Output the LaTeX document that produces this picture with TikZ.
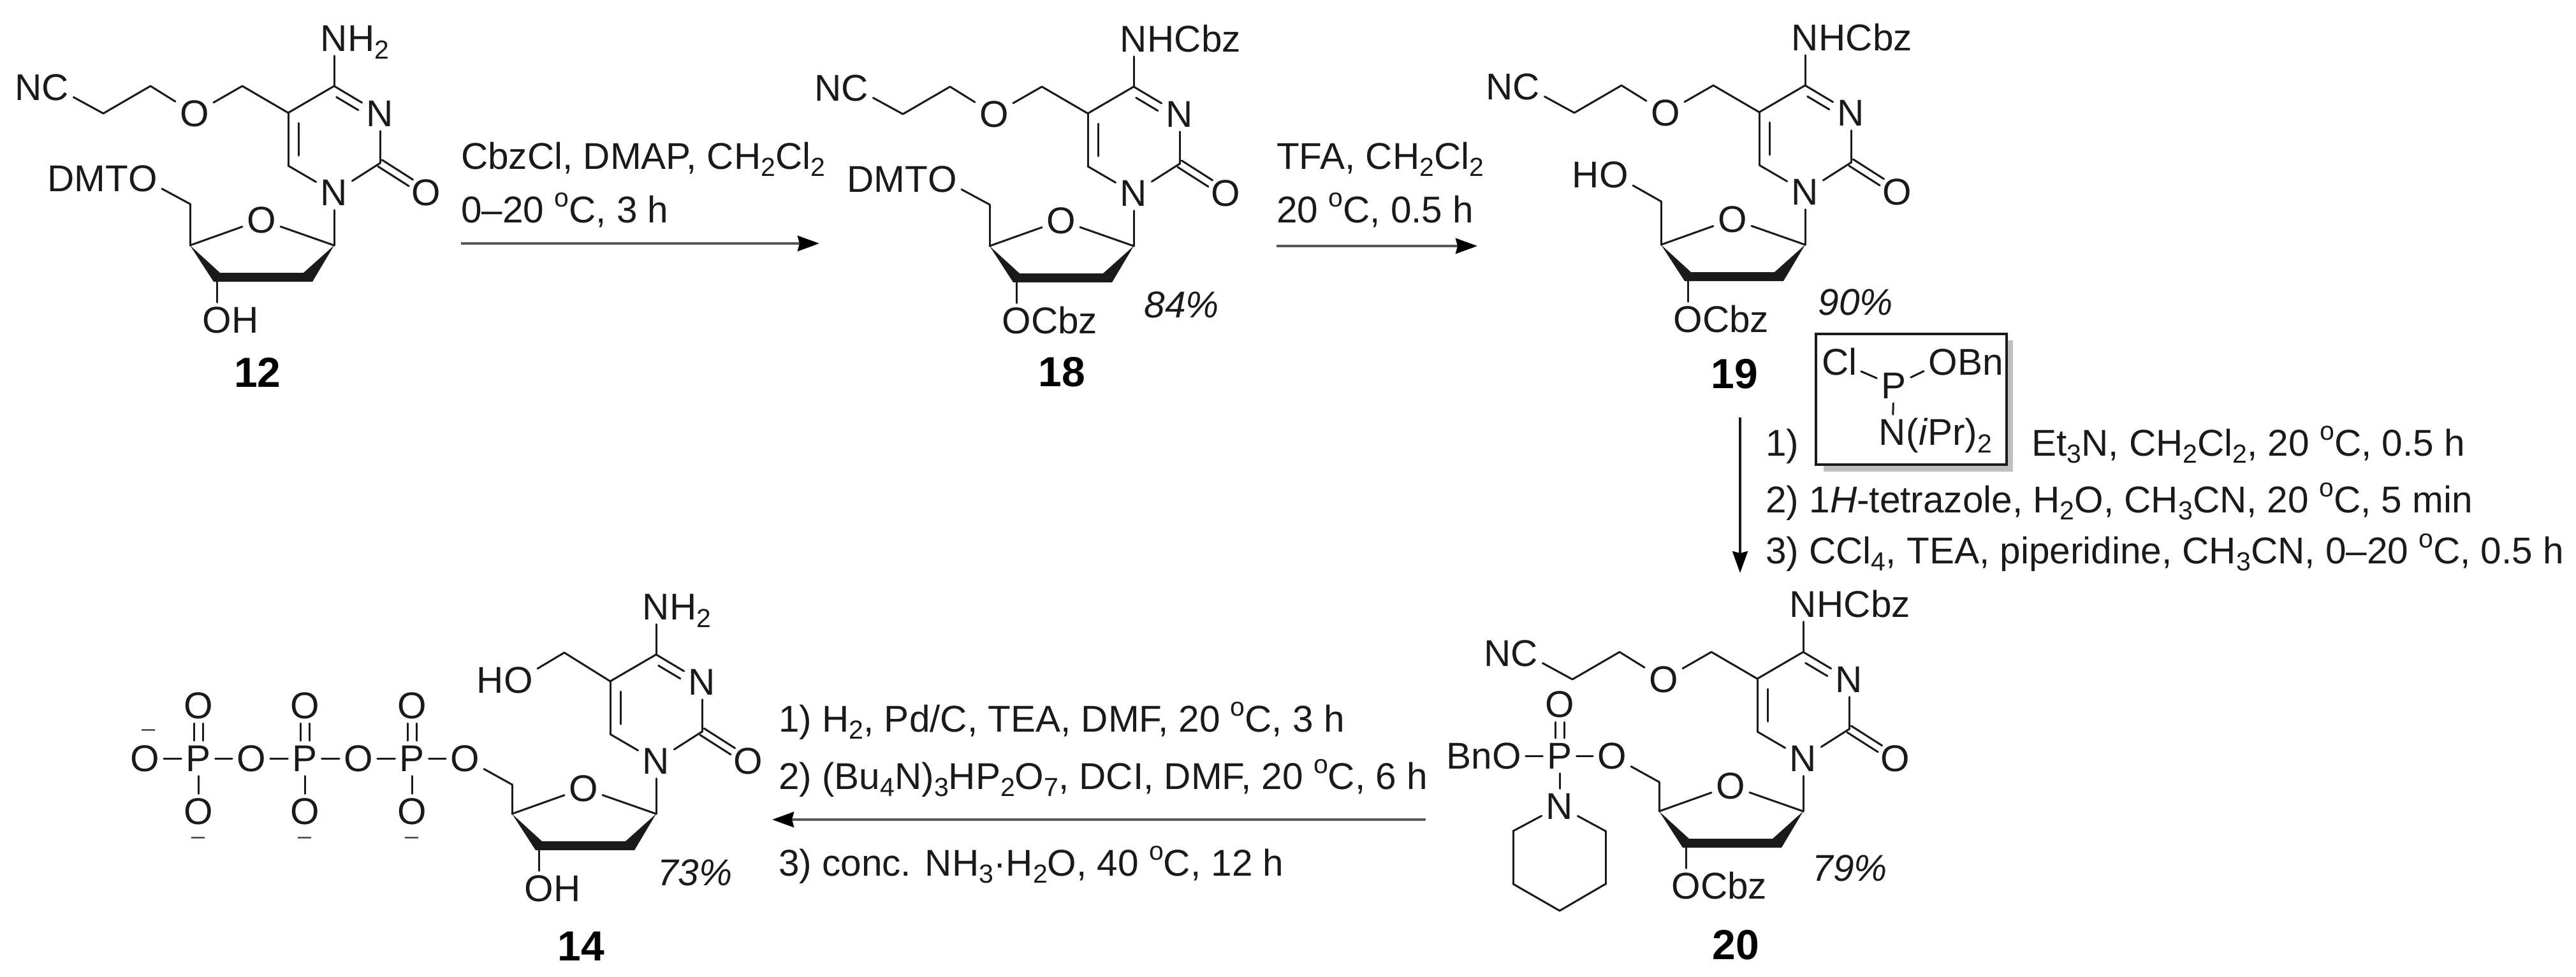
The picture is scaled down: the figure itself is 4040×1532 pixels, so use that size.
\documentclass[tikz,border=0pt]{standalone}
\usepackage{fontspec}
\setmainfont{Liberation Sans}
\usetikzlibrary{calc,arrows.meta}
\definecolor{ink}{HTML}{1A1A1A}
\newcommand\sbs[1]{\raisebox{-.2em}{\fontsize{41}{41}\selectfont #1}}
\newcommand\degO{\raisebox{.42em}{\fontsize{41}{41}\selectfont o}}
\tikzset{
  atom/.style={inner sep=7pt,text height=41pt,text depth=0pt,text=ink},
  rest/.style={anchor=base west,inner sep=0pt,text height=41pt,text depth=0pt,text=ink,xshift=-7pt},
  restl/.style={anchor=base east,inner sep=0pt,text height=41pt,text depth=0pt,text=ink,xshift=7pt},
  rxn/.style={anchor=base west,inner sep=0pt,text=ink},
  yield/.style={inner sep=0pt,text=ink,font=\fontsize{58.5}{62}\selectfont\itshape},
  cmpd/.style={inner sep=0pt,text=black,font=\fontsize{66}{70}\selectfont\bfseries},
  charge/.style={inner sep=0pt,text=ink!80,font=\fontsize{38}{40}\selectfont},
  bond/.style={draw=ink,line width=3pt,line cap=round},
  rxnarrow/.style={draw=black!65,line width=4.5pt,-{Stealth[length=34pt,width=24pt,inset=3pt,color=black]}},
}
% offset parallel line: a, b, offset, angle, shorten at a, shorten at b
\newcommand\dbl[6]{\draw[bond,shorten <=#5,shorten >=#6] ($(#1)!#3!#4:(#2)$) -- ($(#2)!#3!-#4:(#1)$);}
% pyrimidine + sugar core; #1 = y of C5' relative to N1
\newcommand\core[1]{%
  \node[atom] (N1) at (0,0) {N};
  \node[atom] (N3) at (72,-124) {N};
  \node[atom] (O2) at (144,0) {O};
  \node[atom] (O4p) at (-114,43) {O};
  \coordinate (C2) at (72,-46);
  \coordinate (C4) at (0,-167);
  \coordinate (C5) at (-72,-125);
  \coordinate (C6) at (-72,-42);
  \coordinate (C1p) at (0,83);
  \coordinate (C2p) at (-41,133);
  \coordinate (C3p) at (-184,133);
  \coordinate (C4p) at (-226,83);
  \coordinate (C5p) at (-226,#1);
  \draw[bond] (N1) -- (C6);
  \draw[bond] (C6) -- (C5);
  \draw[bond] (C5) -- (C4);
  \draw[bond] (C4) -- (N3);
  \draw[bond] (N3) -- (C2);
  \draw[bond] (C2) -- (N1);
  \dbl{C5}{C6}{16pt}{90}{16pt}{16pt}
  \dbl{C4}{N3}{13pt}{-90}{12pt}{32pt}
  \dbl{C2}{O2}{6pt}{90}{0pt}{28pt}
  \dbl{C2}{O2}{6pt}{-90}{0pt}{28pt}
  \draw[bond] (N1) -- (C1p);
  \draw[bond] (C1p) -- (O4p);
  \draw[bond] (O4p) -- (C4p);
  \draw[bond] (C4p) -- (C5p);
  \fill[ink] (C4p) -- ([shift={(-5,7)}]C3p) -- ([shift={(7,7)}]C2p) -- (C1p)
     -- ([shift={(-7,-7)}]C2p) -- ([shift={(5,-7)}]C3p) -- cycle;
}
% cyanoethoxymethyl chain
\newcommand\chain{%
  \coordinate (Ca) at (-144,-167);
  \node[atom] (Oe) at (-219,-124) {O};
  \coordinate (Cb) at (-288,-167);
  \coordinate (Cc) at (-362,-124);
  \node[atom] (CN) at (-437,-165) {C};
  \node[restl] (NN) at (CN.base west) {N};
  \draw[bond] (C5) -- (Ca);
  \draw[bond] (Ca) -- (Oe);
  \draw[bond] (Oe) -- (Cb);
  \draw[bond] (Cb) -- (Cc);
  \draw[bond] (Cc) -- (CN);
}
% substituent on C4 and on C3'
\newcommand\topN[1]{%
  \node[atom] (Nt) at (0,-242) {N};
  \node[rest] (NtR) at (Nt.base east) {#1};
  \draw[bond] (C4) -- (Nt);
}
\newcommand\botO[1]{%
  \node[atom] (Ob) at (-184,200) {O};
  \node[rest] (ObR) at (Ob.base east) {#1};
  \draw[bond] (C3p) -- (Ob);
}
\begin{document}
\begin{tikzpicture}[x=1pt,y=-1pt,font=\fontsize{58.5}{62}\selectfont]
\useasboundingbox (0,0) rectangle (4040,1532);
\fill[white] (0,0) rectangle (4040,1532);

% ---------- 12
\begin{scope}[shift={(524,302)},name prefix=m12-]
  \core{18}\chain
  \topN{H\sbs{2}}
  \botO{H}
  \node[atom] (O5) at (-300,-22) {O};
  \node[restl] (O5L) at (O5.base west) {DMT};
  \draw[bond] (C5p) -- (O5);
\end{scope}
\node[cmpd] (n12) at (404,584) {12};

% ---------- 18
\begin{scope}[shift={(1778,303)},name prefix=m18-]
  \core{18}\chain
  \topN{HCbz}
  \botO{Cbz}
  \node[atom] (O5) at (-300,-22) {O};
  \node[restl] (O5L) at (O5.base west) {DMT};
  \draw[bond] (C5p) -- (O5);
\end{scope}
\node[cmpd] (n18) at (1665,584) {18};
\node[yield] (y18) at (1853,478) {84\%};

% ---------- 19
\begin{scope}[shift={(2831,301)},name prefix=m19-]
  \core{15}\chain
  \topN{HCbz}
  \botO{Cbz}
  \node[atom] (O5) at (-300,-27) {O};
  \node[restl] (O5L) at (O5.base west) {H};
  \draw[bond] (C5p) -- (O5);
\end{scope}
\node[cmpd] (n19) at (2720,587) {19};
\node[yield] (y19) at (2910,474) {90\%};

% ---------- 20
\begin{scope}[shift={(2828,1190)},name prefix=m20-]
  \core{37}\chain
  \topN{HCbz}
  \botO{Cbz}
  \node[atom] (O5) at (-300,-4) {O};
  \node[atom] (P) at (-382,-4) {P};
  \node[atom] (Ol) at (-465,-4) {O};
  \node[restl] (OlL) at (Ol.base west) {Bn};
  \node[atom] (Ou) at (-382,-85) {O};
  \node[atom] (Np) at (-382,75) {N};
  \coordinate (p1) at (-455,114);
  \coordinate (p2) at (-455,197);
  \coordinate (p3) at (-382,239);
  \coordinate (p4) at (-310,197);
  \coordinate (p5) at (-310,114);
  \draw[bond] (C5p) -- (O5);
  \draw[bond] (O5) -- (P);
  \draw[bond] (P) -- (Ol);
  \draw[bond] (P) -- (Np);
  \dbl{P}{Ou}{7pt}{90}{28pt}{28pt}
  \dbl{P}{Ou}{7pt}{-90}{28pt}{28pt}
  \draw[bond] (Np) -- (p1);
  \draw[bond] (p1) -- (p2);
  \draw[bond] (p2) -- (p3);
  \draw[bond] (p3) -- (p4);
  \draw[bond] (p4) -- (p5);
  \draw[bond] (p5) -- (Np);
\end{scope}
\node[cmpd] (n20) at (2722,1483) {20};
\node[yield] (y20) at (2901,1362) {79\%};

% ---------- 14
\begin{scope}[shift={(1029,1194)},name prefix=m14-]
  \core{37}
  \topN{H\sbs{2}}
  \botO{H}
  \coordinate (Ca) at (-144,-170);
  \node[atom] (Oh) at (-216,-127) {O};
  \node[restl] (OhL) at (Oh.base west) {H};
  \draw[bond] (C5) -- (Ca);
  \draw[bond] (Ca) -- (Oh);
  \node[atom] (O5) at (-300,-4) {O};
  \node[atom] (P3) at (-383,-4) {P};
  \node[atom] (Ob2) at (-467,-4) {O};
  \node[atom] (P2) at (-551,-4) {P};
  \node[atom] (Ob1) at (-635,-4) {O};
  \node[atom] (P1) at (-718,-4) {P};
  \node[atom] (Om) at (-802,-4) {O};
  \draw[bond] (C5p) -- (O5);
  \draw[bond] (O5) -- (P3);
  \draw[bond] (P3) -- (Ob2);
  \draw[bond] (Ob2) -- (P2);
  \draw[bond] (P2) -- (Ob1);
  \draw[bond] (Ob1) -- (P1);
  \draw[bond] (P1) -- (Om);
  \foreach \p/\x in {P1/-718,P2/-551,P3/-383}{
    \node[atom] (U\p) at (\x,-87) {O};
    \node[atom] (D\p) at (\x,79) {O};
    \node[charge] (M\p) at (\x,125) {–};
    \draw[bond] (\p) -- (D\p);
    \dbl{\p}{U\p}{7pt}{90}{28pt}{28pt}
    \dbl{\p}{U\p}{7pt}{-90}{28pt}{28pt}
  }
  \node[charge] (Mm) at (-796,-44) {–};
\end{scope}
\node[cmpd] (n14) at (911,1485) {14};
\node[yield] (y14) at (1090,1369) {73\%};

% ---------- arrows
\coordinate (a1s) at (723,382);
\coordinate (a1e) at (1285,382);
\coordinate (a2s) at (2002,386);
\coordinate (a2e) at (2317,386);
\coordinate (a3s) at (2729,655);
\coordinate (a3e) at (2729,899);
\coordinate (a4s) at (2236,1286);
\coordinate (a4e) at (1211,1286);
\draw[rxnarrow] (a1s) -- (a1e);
\draw[rxnarrow] (a2s) -- (a2e);
\draw[rxnarrow,draw=ink,line width=3.5pt] (a3s) -- (a3e);
\draw[rxnarrow] (a4s) -- (a4e);

% ---------- conditions
\node[rxn] (t1a) at (723,265) {CbzCl, DMAP, CH\sbs{2}Cl\sbs{2}};
\node[rxn] (t1b) at (723,349) {0–20 \degO C, 3 h};
\node[rxn] (t2a) at (2002,265) {TFA, CH\sbs{2}Cl\sbs{2}};
\node[rxn] (t2b) at (2002,349) {20 \degO C, 0.5 h};
\node[rxn] (t3a) at (2769,715) {1)};
\node[rxn] (t3b) at (3186,715) {Et\sbs{3}N, CH\sbs{2}Cl\sbs{2}, 20 \degO C, 0.5 h};
\node[rxn] (t3c) at (2769,804) {2) 1\textit{H}-tetrazole, H\sbs{2}O, CH\sbs{3}CN, 20 \degO C, 5 min};
\node[rxn] (t3d) at (2769,884) {3) CCl\sbs{4}, TEA, piperidine, CH\sbs{3}CN, 0–20 \degO C, 0.5 h};
\node[rxn] (t4a) at (1221,1148) {1) H\sbs{2}, Pd/C, TEA, DMF, 20 \degO C, 3 h};
\node[rxn] (t4b) at (1221,1238) {2) (Bu\sbs{4}N)\sbs{3}HP\sbs{2}O\sbs{7}, DCI, DMF, 20 \degO C, 6 h};
\node[rxn] (t4c) at (1221,1374) {3) conc. NH\sbs{3}\textperiodcentered H\sbs{2}O, 40 \degO C, 12 h};

% ---------- boxed reagent
\node[fill=black!25,inner sep=0pt,minimum width=297pt,minimum height=206pt,anchor=north west] (shadow) at (2860,534) {};
\node[draw=ink,fill=white,line width=3.5pt,inner sep=0pt,minimum width=299pt,minimum height=205pt,anchor=north west] (box) at (2846,522) {};
\node[atom,inner sep=6pt] (bCl) at (2885,568) {Cl};
\node[atom] (bP) at (2970,605) {P};
\node[atom] (bO) at (3047,568) {O};
\node[rest] (bOR) at (bO.base east) {Bn};
\node[atom] (bN) at (2968,678) {N};
\node[rest] (bNR) at (bN.base east) {(\textit{i}Pr)\sbs{2}};
\draw[bond] (bP) -- (bCl);
\draw[bond] (bP) -- (bO);
\draw[bond] (bP) -- (bN);
\end{tikzpicture}
\end{document}
